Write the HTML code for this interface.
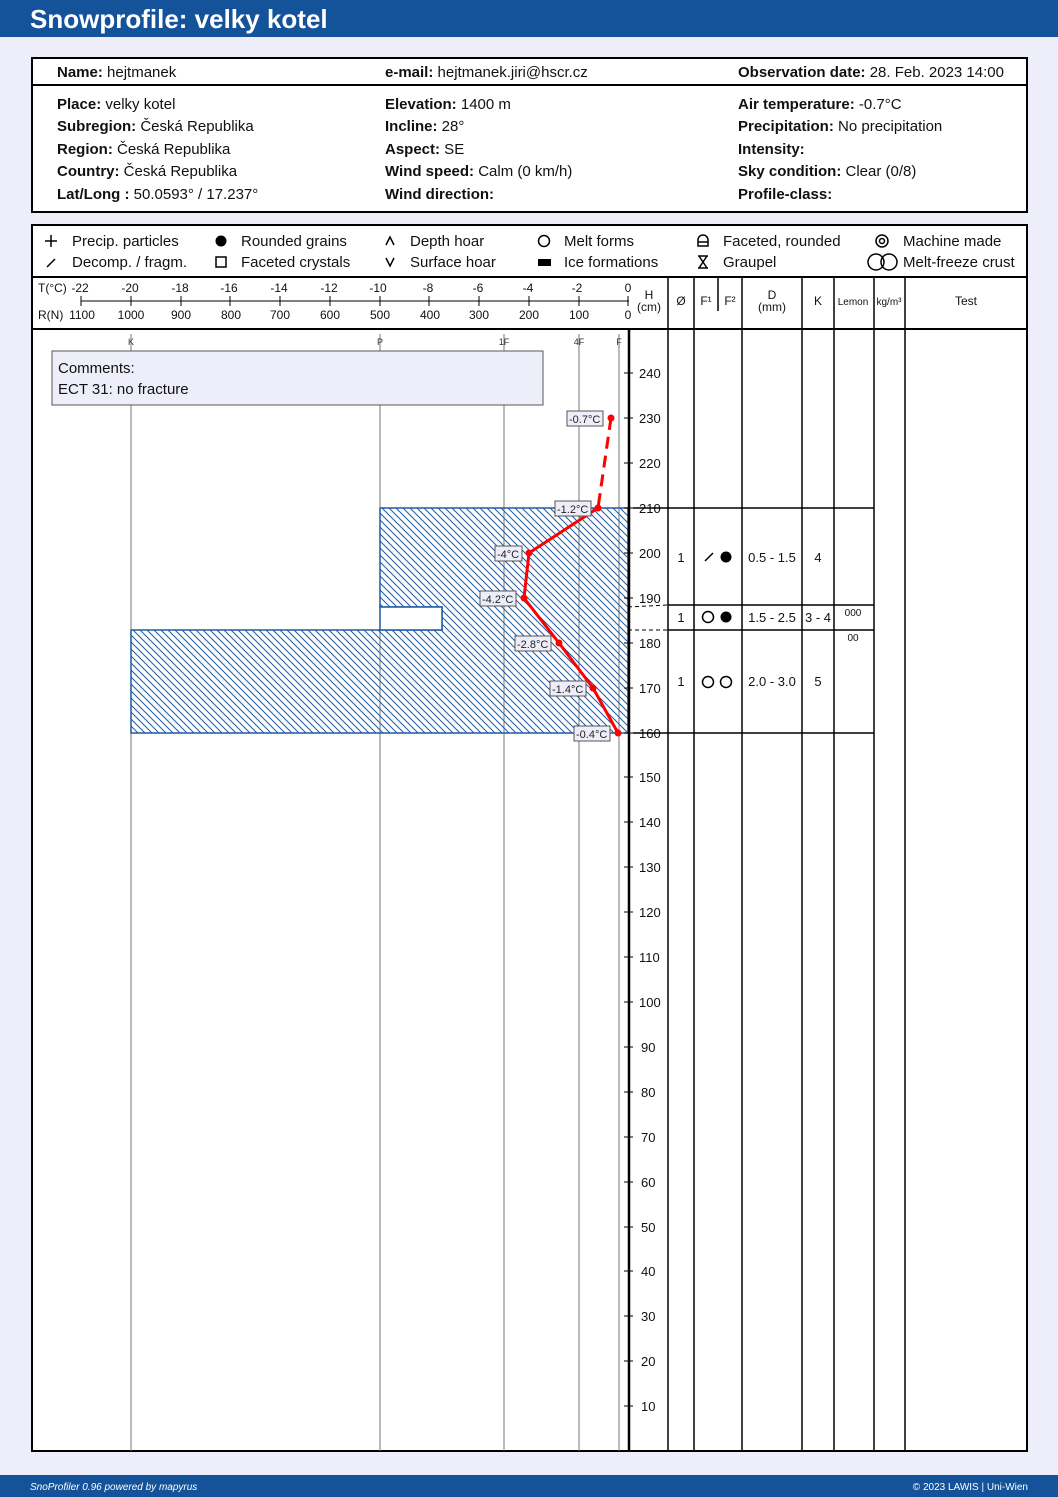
<!DOCTYPE html>
<html><head><meta charset="utf-8"><style>
body{margin:0;background:#eeeefa;}
svg{display:block;font-family:"Liberation Sans","DejaVu Sans",sans-serif;}
</style></head><body>
<svg width="1058" height="1497" viewBox="0 0 1058 1497" xmlns="http://www.w3.org/2000/svg">
<defs>
<pattern id="h" width="7" height="7" patternUnits="userSpaceOnUse">
<path d="M-1,-1 L8,8 M-1,6 L1,8 M6,-1 L8,1" stroke="#1f5aa6" stroke-width="1"/>
</pattern>
</defs>
<rect width="1058" height="1497" fill="#eeeefa"/>
<rect width="1058" height="37" fill="#14539a"/>
<text x="30" y="28" font-size="26" font-weight="bold" fill="#fff">Snowprofile: velky kotel</text>

<rect x="32" y="58" width="995" height="154" fill="#fff" stroke="#000" stroke-width="2"/>
<line x1="32" y1="85" x2="1027" y2="85" stroke="#000" stroke-width="2"/>
<g font-size="15" fill="#111">
<text x="57" y="77"><tspan font-weight="bold">Name:</tspan> hejtmanek</text>
<text x="385" y="77"><tspan font-weight="bold">e-mail:</tspan> hejtmanek.jiri@hscr.cz</text>
<text x="738" y="77"><tspan font-weight="bold">Observation date:</tspan> 28. Feb. 2023 14:00</text>
<text x="57" y="109"><tspan font-weight="bold">Place:</tspan> velky kotel</text>
<text x="57" y="131"><tspan font-weight="bold">Subregion:</tspan> Česká Republika</text>
<text x="57" y="154"><tspan font-weight="bold">Region:</tspan> Česká Republika</text>
<text x="57" y="176"><tspan font-weight="bold">Country:</tspan> Česká Republika</text>
<text x="57" y="199"><tspan font-weight="bold">Lat/Long :</tspan> 50.0593° / 17.237°</text>
<text x="385" y="109"><tspan font-weight="bold">Elevation:</tspan> 1400 m</text>
<text x="385" y="131"><tspan font-weight="bold">Incline:</tspan> 28°</text>
<text x="385" y="154"><tspan font-weight="bold">Aspect:</tspan> SE</text>
<text x="385" y="176"><tspan font-weight="bold">Wind speed:</tspan> Calm (0 km/h)</text>
<text x="385" y="199"><tspan font-weight="bold">Wind direction:</tspan></text>
<text x="738" y="109"><tspan font-weight="bold">Air temperature:</tspan> -0.7°C</text>
<text x="738" y="131"><tspan font-weight="bold">Precipitation:</tspan> No precipitation</text>
<text x="738" y="154"><tspan font-weight="bold">Intensity:</tspan></text>
<text x="738" y="176"><tspan font-weight="bold">Sky condition:</tspan> Clear (0/8)</text>
<text x="738" y="199"><tspan font-weight="bold">Profile-class:</tspan></text>
</g>

<rect x="32" y="225" width="995" height="1226" fill="#fff" stroke="#000" stroke-width="2"/>
<line x1="32" y1="277" x2="1027" y2="277" stroke="#000" stroke-width="2"/>
<line x1="32" y1="329" x2="1027" y2="329" stroke="#000" stroke-width="2"/>

<g font-size="15" fill="#111">
<path d="M45,241 h12 M51,235 v12" stroke="#000" stroke-width="1.5"/>
<text x="72" y="246">Precip. particles</text>
<path d="M47,267 L55,259" stroke="#000" stroke-width="1.5"/>
<text x="72" y="267">Decomp. / fragm.</text>
<circle cx="221" cy="241" r="5.5" fill="#000"/>
<text x="241" y="246">Rounded grains</text>
<rect x="216" y="257" width="10" height="10" fill="none" stroke="#000" stroke-width="1.5"/>
<text x="241" y="267">Faceted crystals</text>
<path d="M386,245 L390,237 L394,245" fill="none" stroke="#000" stroke-width="1.5"/>
<text x="410" y="246">Depth hoar</text>
<path d="M386,258 L390,266 L394,258" fill="none" stroke="#000" stroke-width="1.5"/>
<text x="410" y="267">Surface hoar</text>
<circle cx="544" cy="241" r="5.5" fill="none" stroke="#000" stroke-width="1.5"/>
<text x="564" y="246">Melt forms</text>
<rect x="538" y="259" width="13" height="7" fill="#000"/>
<text x="564" y="267">Ice formations</text>
<path d="M698,246 v-6 a5,5 0 0 1 10,0 v6 z M698,242 h10" fill="none" stroke="#000" stroke-width="1.5"/>
<text x="723" y="246">Faceted, rounded</text>
<path d="M698,256 h10 M698,268 h10 M699,268 L707,256 M707,268 L699,256" fill="none" stroke="#000" stroke-width="1.5"/>
<text x="723" y="267">Graupel</text>
<circle cx="882" cy="241" r="6" fill="none" stroke="#000" stroke-width="1.5"/>
<circle cx="882" cy="241" r="2.5" fill="none" stroke="#000" stroke-width="1.5"/>
<text x="903" y="246">Machine made</text>
<circle cx="876" cy="262" r="8" fill="none" stroke="#000" stroke-width="1.5"/>
<circle cx="889" cy="262" r="8" fill="none" stroke="#000" stroke-width="1.5"/>
<text x="903" y="267">Melt-freeze crust</text>
</g>

<g font-size="12" fill="#111" text-anchor="middle">
<text x="38" y="292" text-anchor="start">T(°C)</text>
<text x="80" y="292">-22</text><text x="130" y="292">-20</text><text x="180" y="292">-18</text><text x="229" y="292">-16</text><text x="279" y="292">-14</text><text x="329" y="292">-12</text><text x="378" y="292">-10</text><text x="428" y="292">-8</text><text x="478" y="292">-6</text><text x="528" y="292">-4</text><text x="577" y="292">-2</text><text x="628" y="292">0</text>
<text x="38" y="319" text-anchor="start">R(N)</text><text x="82" y="319">1100</text>
<text x="131" y="319">1000</text><text x="181" y="319">900</text><text x="231" y="319">800</text><text x="280" y="319">700</text><text x="330" y="319">600</text><text x="380" y="319">500</text><text x="430" y="319">400</text><text x="479" y="319">300</text><text x="529" y="319">200</text><text x="579" y="319">100</text><text x="628" y="319">0</text>
<text x="649" y="299">H</text><text x="649" y="311">(cm)</text>
<text x="681" y="305">Ø</text><text x="706" y="305">F¹</text><text x="730" y="305">F²</text>
<text x="772" y="299">D</text><text x="772" y="311">(mm)</text>
<text x="818" y="305">K</text>
<text x="853" y="305" font-size="10">Lemon</text>
<text x="889" y="305" font-size="10">kg/m³</text>
<text x="966" y="305">Test</text>
</g>
<line x1="81" y1="301" x2="629" y2="301" stroke="#000" stroke-width="1"/>
<path d="M81,296v10 M131,296v10 M181,296v10 M230,296v10 M280,296v10 M330,296v10 M380,296v10 M429,296v10 M479,296v10 M529,296v10 M579,296v10 M628,296v10" stroke="#000"/>
<g stroke="#000" stroke-width="1.5">
<line x1="668" y1="277" x2="668" y2="1451"/>
<line x1="694" y1="277" x2="694" y2="1451"/>
<line x1="718" y1="277" x2="718" y2="311"/>
<line x1="742" y1="277" x2="742" y2="1451"/>
<line x1="802" y1="277" x2="802" y2="1451"/>
<line x1="834" y1="277" x2="834" y2="1451"/>
<line x1="874" y1="277" x2="874" y2="1451"/>
<line x1="905" y1="277" x2="905" y2="1451"/>
</g>

<g stroke="#777" stroke-width="1">
<line x1="131" y1="334" x2="131" y2="1451"/>
<line x1="380" y1="334" x2="380" y2="1451"/>
<line x1="504" y1="334" x2="504" y2="1451"/>
<line x1="579" y1="334" x2="579" y2="1451"/>
<line x1="619" y1="334" x2="619" y2="1451"/>
</g>
<g font-size="9" fill="#333" text-anchor="middle">
<text x="131" y="345">K</text><text x="380" y="345">P</text><text x="504" y="345">1F</text><text x="579" y="345">4F</text><text x="619" y="345">F</text>
</g>

<path d="M380,508 H628 V733 H131 V630 H442 V607 H380 Z" fill="url(#h)" stroke="#1f5aa6" stroke-width="1.5"/>
<rect x="380" y="607" width="62" height="23" fill="#fff" stroke="#1f5aa6" stroke-width="1.5"/>

<rect x="52" y="351" width="491" height="54" fill="#eeeefa" stroke="#555" stroke-width="1"/>
<text x="58" y="373" font-size="15" fill="#111">Comments:</text>
<text x="58" y="394" font-size="15" fill="#111">ECT 31: no fracture</text>

<line x1="629" y1="329" x2="629" y2="1451" stroke="#000" stroke-width="2.5"/>
<g stroke="#000" stroke-width="1">
<path d="M624,373h9 M624,418h9 M624,463h9 M624,508h9 M624,553h9 M624,598h9 M624,643h9 M624,688h9 M624,733h9 M624,777h9 M624,822h9 M624,867h9 M624,912h9 M624,957h9 M624,1002h9 M624,1047h9 M624,1092h9 M624,1137h9 M624,1182h9 M624,1227h9 M624,1271h9 M624,1316h9 M624,1361h9 M624,1406h9"/>
</g>
<g font-size="13" fill="#111">
<text x="639" y="378">240</text><text x="639" y="423">230</text><text x="639" y="468">220</text><text x="639" y="513">210</text><text x="639" y="558">200</text><text x="639" y="603">190</text><text x="639" y="648">180</text><text x="639" y="693">170</text><text x="639" y="738">160</text><text x="639" y="782">150</text><text x="639" y="827">140</text><text x="639" y="872">130</text><text x="639" y="917">120</text><text x="639" y="962">110</text><text x="639" y="1007">100</text><text x="641" y="1052">90</text><text x="641" y="1097">80</text><text x="641" y="1142">70</text><text x="641" y="1187">60</text><text x="641" y="1232">50</text><text x="641" y="1276">40</text><text x="641" y="1321">30</text><text x="641" y="1366">20</text><text x="641" y="1411">10</text>
</g>

<g stroke="#000" stroke-width="1.5">
<line x1="633" y1="508" x2="874" y2="508"/>
<line x1="668" y1="605" x2="874" y2="605"/>
<line x1="668" y1="630" x2="874" y2="630"/>
<line x1="633" y1="733" x2="874" y2="733"/>
</g>
<path d="M628,607 L668,605 M628,630 L668,630" stroke="#000" stroke-dasharray="4,3"/>
<g font-size="13" fill="#111" text-anchor="middle">
<text x="681" y="562">1</text><text x="772" y="562">0.5 - 1.5</text><text x="818" y="562">4</text>
<text x="681" y="622">1</text><text x="772" y="622">1.5 - 2.5</text><text x="818" y="622">3 - 4</text>
<text x="681" y="686">1</text><text x="772" y="686">2.0 - 3.0</text><text x="818" y="686">5</text>
<text x="853" y="616" font-size="10">000</text>
<text x="853" y="641" font-size="10">00</text>
</g>
<path d="M705,561 L713,553" stroke="#000" stroke-width="1.5"/>
<circle cx="726" cy="557" r="5.5" fill="#000"/>
<circle cx="708" cy="617" r="5.5" fill="none" stroke="#000" stroke-width="1.5"/>
<circle cx="726" cy="617" r="5.5" fill="#000"/>
<circle cx="708" cy="682" r="5.5" fill="none" stroke="#000" stroke-width="1.5"/>
<circle cx="726" cy="682" r="5.5" fill="none" stroke="#000" stroke-width="1.5"/>

<line x1="611" y1="418" x2="598" y2="508" stroke="#f00" stroke-width="3" stroke-dasharray="12,7"/>
<polyline points="598,508 529,553 524,598 559,643 593,688 618,733" fill="none" stroke="#f00" stroke-width="3"/>
<g fill="#f00"><circle cx="611" cy="418" r="3.5"/><circle cx="598" cy="508" r="3.5"/><circle cx="529" cy="553" r="3.5"/><circle cx="524" cy="598" r="3.5"/><circle cx="559" cy="643" r="3.5"/><circle cx="593" cy="688" r="3.5"/><circle cx="618" cy="733" r="3.5"/></g>
<g font-size="11" fill="#222">
<rect x="567" y="411" width="36" height="15" fill="#eeeefa" stroke="#555"/><text x="569" y="423">-0.7°C</text>
<rect x="555" y="501" width="36" height="15" fill="#eeeefa" stroke="#555"/><text x="557" y="513">-1.2°C</text>
<rect x="495" y="546" width="27" height="15" fill="#eeeefa" stroke="#555"/><text x="497" y="558">-4°C</text>
<rect x="480" y="591" width="36" height="15" fill="#eeeefa" stroke="#555"/><text x="482" y="603">-4.2°C</text>
<rect x="515" y="636" width="36" height="15" fill="#eeeefa" stroke="#555"/><text x="517" y="648">-2.8°C</text>
<rect x="550" y="681" width="36" height="15" fill="#eeeefa" stroke="#555"/><text x="552" y="693">-1.4°C</text>
<rect x="574" y="726" width="36" height="15" fill="#eeeefa" stroke="#555"/><text x="576" y="738">-0.4°C</text>
</g>

<rect x="0" y="1475" width="1058" height="22" fill="#14539a"/>
<text x="30" y="1490" font-size="10" font-style="italic" fill="#fff">SnoProfiler 0.96 powered by mapyrus</text>
<text x="1028" y="1490" font-size="10" fill="#fff" text-anchor="end">© 2023 LAWIS | Uni-Wien</text>
</svg>
</body></html>
